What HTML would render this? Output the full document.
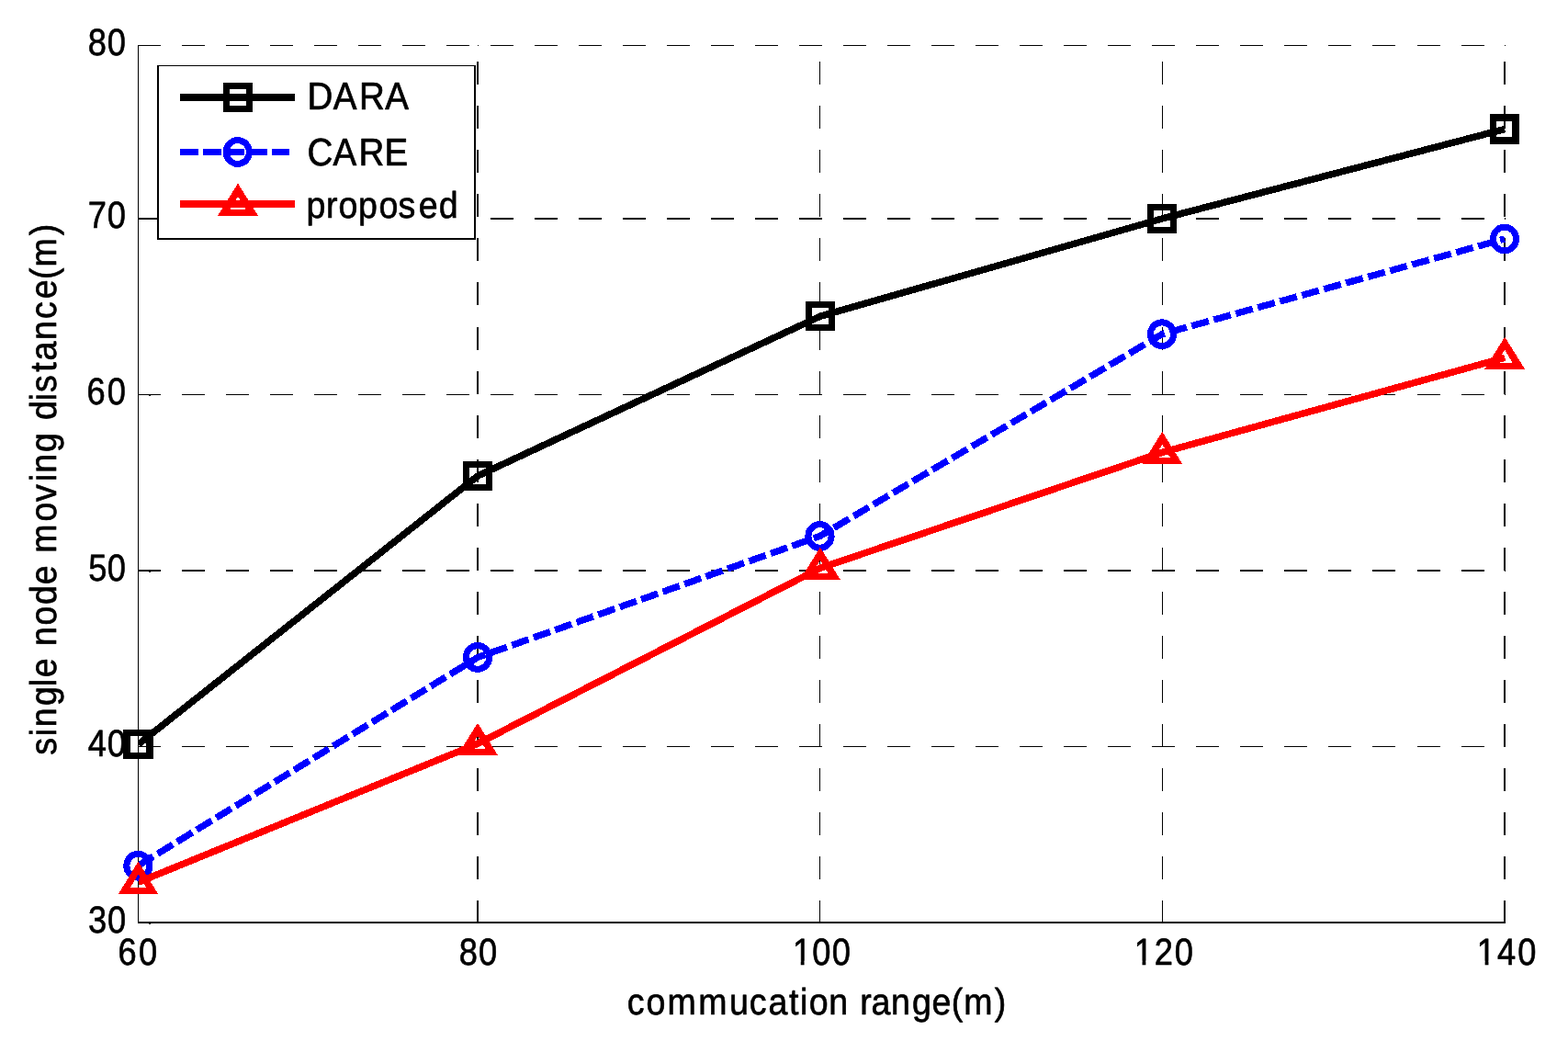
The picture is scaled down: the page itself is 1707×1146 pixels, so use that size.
<!DOCTYPE html>
<html lang="en"><head><meta charset="utf-8"><title>single node moving distance vs commucation range</title>
<style>
html,body{margin:0;padding:0;background:#fff;}
body{width:1707px;height:1146px;overflow:hidden;}
svg{display:block;}
text{font-family:'Liberation Sans', Arial, Helvetica, sans-serif;fill:#000;stroke:#000;stroke-width:0.7px;stroke-linejoin:round;white-space:pre;}
</style></head><body>
<svg width="1707" height="1146" viewBox="0 0 1707 1146" role="img" aria-label="single node moving distance versus commucation range">
<rect x="0" y="0" width="1707" height="1146" fill="#fff"/>
<g fill="#000" shape-rendering="crispEdges">
<rect x="150" y="49" width="25" height="1"/><rect x="198" y="49" width="25" height="1"/><rect x="246" y="49" width="25" height="1"/><rect x="294" y="49" width="25" height="1"/><rect x="342" y="49" width="25" height="1"/><rect x="390" y="49" width="25" height="1"/><rect x="438" y="49" width="25" height="1"/><rect x="486" y="49" width="25" height="1"/><rect x="534" y="49" width="25" height="1"/><rect x="582" y="49" width="25" height="1"/><rect x="630" y="49" width="25" height="1"/><rect x="678" y="49" width="25" height="1"/><rect x="726" y="49" width="25" height="1"/><rect x="774" y="49" width="25" height="1"/><rect x="822" y="49" width="25" height="1"/><rect x="870" y="49" width="25" height="1"/><rect x="918" y="49" width="25" height="1"/><rect x="966" y="49" width="25" height="1"/><rect x="1014" y="49" width="25" height="1"/><rect x="1062" y="49" width="25" height="1"/><rect x="1110" y="49" width="25" height="1"/><rect x="1158" y="49" width="25" height="1"/><rect x="1206" y="49" width="25" height="1"/><rect x="1254" y="49" width="25" height="1"/><rect x="1302" y="49" width="25" height="1"/><rect x="1350" y="49" width="25" height="1"/><rect x="1398" y="49" width="25" height="1"/><rect x="1446" y="49" width="25" height="1"/><rect x="1494" y="49" width="25" height="1"/><rect x="1543" y="49" width="25" height="1"/><rect x="1591" y="49" width="25" height="1"/><rect x="1638" y="49" width="1" height="1"/>
<rect x="150" y="237" width="25" height="2"/><rect x="198" y="237" width="25" height="2"/><rect x="246" y="237" width="25" height="2"/><rect x="294" y="237" width="25" height="2"/><rect x="342" y="237" width="25" height="2"/><rect x="390" y="237" width="25" height="2"/><rect x="438" y="237" width="25" height="2"/><rect x="486" y="237" width="25" height="2"/><rect x="534" y="237" width="25" height="2"/><rect x="582" y="237" width="25" height="2"/><rect x="630" y="237" width="25" height="2"/><rect x="678" y="237" width="25" height="2"/><rect x="726" y="237" width="25" height="2"/><rect x="774" y="237" width="25" height="2"/><rect x="822" y="237" width="25" height="2"/><rect x="870" y="237" width="25" height="2"/><rect x="918" y="237" width="25" height="2"/><rect x="966" y="237" width="25" height="2"/><rect x="1014" y="237" width="25" height="2"/><rect x="1062" y="237" width="25" height="2"/><rect x="1110" y="237" width="25" height="2"/><rect x="1158" y="237" width="25" height="2"/><rect x="1206" y="237" width="25" height="2"/><rect x="1254" y="237" width="25" height="2"/><rect x="1302" y="237" width="25" height="2"/><rect x="1350" y="237" width="25" height="2"/><rect x="1398" y="237" width="25" height="2"/><rect x="1446" y="237" width="25" height="2"/><rect x="1494" y="237" width="25" height="2"/><rect x="1543" y="237" width="25" height="2"/><rect x="1591" y="237" width="25" height="2"/><rect x="1638" y="237" width="1" height="2"/>
<rect x="150" y="429" width="25" height="1"/><rect x="198" y="429" width="25" height="1"/><rect x="246" y="429" width="25" height="1"/><rect x="294" y="429" width="25" height="1"/><rect x="342" y="429" width="25" height="1"/><rect x="390" y="429" width="25" height="1"/><rect x="438" y="429" width="25" height="1"/><rect x="486" y="429" width="25" height="1"/><rect x="534" y="429" width="25" height="1"/><rect x="582" y="429" width="25" height="1"/><rect x="630" y="429" width="25" height="1"/><rect x="678" y="429" width="25" height="1"/><rect x="726" y="429" width="25" height="1"/><rect x="774" y="429" width="25" height="1"/><rect x="822" y="429" width="25" height="1"/><rect x="870" y="429" width="25" height="1"/><rect x="918" y="429" width="25" height="1"/><rect x="966" y="429" width="25" height="1"/><rect x="1014" y="429" width="25" height="1"/><rect x="1062" y="429" width="25" height="1"/><rect x="1110" y="429" width="25" height="1"/><rect x="1158" y="429" width="25" height="1"/><rect x="1206" y="429" width="25" height="1"/><rect x="1254" y="429" width="25" height="1"/><rect x="1302" y="429" width="25" height="1"/><rect x="1350" y="429" width="25" height="1"/><rect x="1398" y="429" width="25" height="1"/><rect x="1446" y="429" width="25" height="1"/><rect x="1494" y="429" width="25" height="1"/><rect x="1543" y="429" width="25" height="1"/><rect x="1591" y="429" width="25" height="1"/><rect x="1638" y="429" width="1" height="1"/>
<rect x="150" y="620" width="25" height="2"/><rect x="198" y="620" width="25" height="2"/><rect x="246" y="620" width="25" height="2"/><rect x="294" y="620" width="25" height="2"/><rect x="342" y="620" width="25" height="2"/><rect x="390" y="620" width="25" height="2"/><rect x="438" y="620" width="25" height="2"/><rect x="486" y="620" width="25" height="2"/><rect x="534" y="620" width="25" height="2"/><rect x="582" y="620" width="25" height="2"/><rect x="630" y="620" width="25" height="2"/><rect x="678" y="620" width="25" height="2"/><rect x="726" y="620" width="25" height="2"/><rect x="774" y="620" width="25" height="2"/><rect x="822" y="620" width="25" height="2"/><rect x="870" y="620" width="25" height="2"/><rect x="918" y="620" width="25" height="2"/><rect x="966" y="620" width="25" height="2"/><rect x="1014" y="620" width="25" height="2"/><rect x="1062" y="620" width="25" height="2"/><rect x="1110" y="620" width="25" height="2"/><rect x="1158" y="620" width="25" height="2"/><rect x="1206" y="620" width="25" height="2"/><rect x="1254" y="620" width="25" height="2"/><rect x="1302" y="620" width="25" height="2"/><rect x="1350" y="620" width="25" height="2"/><rect x="1398" y="620" width="25" height="2"/><rect x="1446" y="620" width="25" height="2"/><rect x="1494" y="620" width="25" height="2"/><rect x="1543" y="620" width="25" height="2"/><rect x="1591" y="620" width="25" height="2"/><rect x="1638" y="620" width="1" height="2"/>
<rect x="150" y="812" width="25" height="1"/><rect x="198" y="812" width="25" height="1"/><rect x="246" y="812" width="25" height="1"/><rect x="294" y="812" width="25" height="1"/><rect x="342" y="812" width="25" height="1"/><rect x="390" y="812" width="25" height="1"/><rect x="438" y="812" width="25" height="1"/><rect x="486" y="812" width="25" height="1"/><rect x="534" y="812" width="25" height="1"/><rect x="582" y="812" width="25" height="1"/><rect x="630" y="812" width="25" height="1"/><rect x="678" y="812" width="25" height="1"/><rect x="726" y="812" width="25" height="1"/><rect x="774" y="812" width="25" height="1"/><rect x="822" y="812" width="25" height="1"/><rect x="870" y="812" width="25" height="1"/><rect x="918" y="812" width="25" height="1"/><rect x="966" y="812" width="25" height="1"/><rect x="1014" y="812" width="25" height="1"/><rect x="1062" y="812" width="25" height="1"/><rect x="1110" y="812" width="25" height="1"/><rect x="1158" y="812" width="25" height="1"/><rect x="1206" y="812" width="25" height="1"/><rect x="1254" y="812" width="25" height="1"/><rect x="1302" y="812" width="25" height="1"/><rect x="1350" y="812" width="25" height="1"/><rect x="1398" y="812" width="25" height="1"/><rect x="1446" y="812" width="25" height="1"/><rect x="1494" y="812" width="25" height="1"/><rect x="1543" y="812" width="25" height="1"/><rect x="1591" y="812" width="25" height="1"/><rect x="1638" y="812" width="1" height="1"/>
<rect x="519" y="980" width="2" height="25"/><rect x="519" y="932" width="2" height="25"/><rect x="519" y="884" width="2" height="25"/><rect x="519" y="836" width="2" height="25"/><rect x="519" y="788" width="2" height="25"/><rect x="519" y="740" width="2" height="25"/><rect x="519" y="692" width="2" height="25"/><rect x="519" y="644" width="2" height="25"/><rect x="519" y="596" width="2" height="25"/><rect x="519" y="548" width="2" height="25"/><rect x="519" y="500" width="2" height="25"/><rect x="519" y="452" width="2" height="25"/><rect x="519" y="404" width="2" height="25"/><rect x="519" y="356" width="2" height="25"/><rect x="519" y="307" width="2" height="25"/><rect x="519" y="259" width="2" height="25"/><rect x="519" y="211" width="2" height="25"/><rect x="519" y="163" width="2" height="25"/><rect x="519" y="115" width="2" height="25"/><rect x="519" y="67" width="2" height="25"/><rect x="520" y="49" width="1" height="1"/>
<rect x="892" y="980" width="1" height="25"/><rect x="892" y="932" width="1" height="25"/><rect x="892" y="884" width="1" height="25"/><rect x="892" y="836" width="1" height="25"/><rect x="892" y="788" width="1" height="25"/><rect x="892" y="740" width="1" height="25"/><rect x="892" y="692" width="1" height="25"/><rect x="892" y="644" width="1" height="25"/><rect x="892" y="596" width="1" height="25"/><rect x="892" y="548" width="1" height="25"/><rect x="892" y="500" width="1" height="25"/><rect x="892" y="452" width="1" height="25"/><rect x="892" y="404" width="1" height="25"/><rect x="892" y="356" width="1" height="25"/><rect x="892" y="307" width="1" height="25"/><rect x="892" y="259" width="1" height="25"/><rect x="892" y="211" width="1" height="25"/><rect x="892" y="163" width="1" height="25"/><rect x="892" y="115" width="1" height="25"/><rect x="892" y="67" width="1" height="25"/>
<rect x="1265" y="980" width="1" height="25"/><rect x="1265" y="932" width="1" height="25"/><rect x="1265" y="884" width="1" height="25"/><rect x="1265" y="836" width="1" height="25"/><rect x="1265" y="788" width="1" height="25"/><rect x="1265" y="740" width="1" height="25"/><rect x="1265" y="692" width="1" height="25"/><rect x="1265" y="644" width="1" height="25"/><rect x="1265" y="596" width="1" height="25"/><rect x="1265" y="548" width="1" height="25"/><rect x="1265" y="500" width="1" height="25"/><rect x="1265" y="452" width="1" height="25"/><rect x="1265" y="404" width="1" height="25"/><rect x="1265" y="356" width="1" height="25"/><rect x="1265" y="307" width="1" height="25"/><rect x="1265" y="259" width="1" height="25"/><rect x="1265" y="211" width="1" height="25"/><rect x="1265" y="163" width="1" height="25"/><rect x="1265" y="115" width="1" height="25"/><rect x="1265" y="67" width="1" height="25"/>
<rect x="1637" y="980" width="2" height="25"/><rect x="1637" y="932" width="2" height="25"/><rect x="1637" y="884" width="2" height="25"/><rect x="1637" y="836" width="2" height="25"/><rect x="1637" y="788" width="2" height="25"/><rect x="1637" y="740" width="2" height="25"/><rect x="1637" y="692" width="2" height="25"/><rect x="1637" y="644" width="2" height="25"/><rect x="1637" y="596" width="2" height="25"/><rect x="1637" y="548" width="2" height="25"/><rect x="1637" y="500" width="2" height="25"/><rect x="1637" y="452" width="2" height="25"/><rect x="1637" y="404" width="2" height="25"/><rect x="1637" y="356" width="2" height="25"/><rect x="1637" y="307" width="2" height="25"/><rect x="1637" y="259" width="2" height="25"/><rect x="1637" y="211" width="2" height="25"/><rect x="1637" y="163" width="2" height="25"/><rect x="1637" y="115" width="2" height="25"/><rect x="1637" y="67" width="2" height="25"/><rect x="1638" y="49" width="1" height="1"/>
<rect x="150" y="49" width="1" height="956"/>
<rect x="150" y="1003" width="1489" height="2"/>
<rect x="162" y="430" width="2" height="1"/><rect x="162" y="622" width="2" height="1"/><rect x="162" y="1005" width="2" height="1"/>
</g>
<clipPath id="axclip"><rect x="151" y="40" width="1488" height="970"/></clipPath>
<g fill="none" stroke-linejoin="round" shape-rendering="crispEdges">
<polyline clip-path="url(#axclip)" points="150.5,810.1 520.0,518.0 892.5,344.4 1265.0,238.0 1638.0,140.5" stroke="#000" stroke-width="7.5"/>
<path d="M134 794H167V826H134Z M142 801H159V819H142Z" fill="#000" fill-rule="evenodd"/>
<rect x="507.5" y="505.5" width="25" height="25" fill="none" stroke="#000" stroke-width="7" stroke-linejoin="miter"/>
<rect x="880.0" y="331.9" width="25" height="25" fill="none" stroke="#000" stroke-width="7" stroke-linejoin="miter"/>
<rect x="1252.5" y="225.5" width="25" height="25" fill="none" stroke="#000" stroke-width="7" stroke-linejoin="miter"/>
<path d="M1622 124H1654V157H1622Z M1629 132H1646V149H1629Z" fill="#000" fill-rule="evenodd"/>
<polyline clip-path="url(#axclip)" points="150.4,942.2 520.0,715.5 892.5,583.5 1265.0,363.7 1638.0,260.0" stroke="#00f" stroke-width="7.3" stroke-dasharray="19.3 5.6"/>
<ellipse cx="150.4" cy="942.2" rx="12.6" ry="12.9" fill="none" stroke="#00f" stroke-width="7"/>
<ellipse cx="520.0" cy="715.5" rx="12.6" ry="12.9" fill="none" stroke="#00f" stroke-width="7"/>
<ellipse cx="892.5" cy="583.5" rx="12.6" ry="12.9" fill="none" stroke="#00f" stroke-width="7"/>
<ellipse cx="1265.0" cy="363.7" rx="12.6" ry="12.9" fill="none" stroke="#00f" stroke-width="7"/>
<ellipse cx="1638.0" cy="260.0" rx="12.6" ry="12.9" fill="none" stroke="#00f" stroke-width="7"/>
<polyline clip-path="url(#axclip)" points="150.5,960.2 520.0,809.4 892.9,618.3 1265.3,492.4 1638.2,389.3" stroke="#f00" stroke-width="7.5"/>
<path d="M150.1 938.2 L150.9 938.2 L172.0 972.9 L129.0 972.9 Z M150.5 951.6 L159.1 965.9 L141.9 965.9 Z" fill="#f00" fill-rule="evenodd"/>
<path d="M519.6 787.4 L520.4 787.4 L542.0 822.1 L498.0 822.1 Z M520.0 800.8 L528.6 815.1 L511.4 815.1 Z" fill="#f00" fill-rule="evenodd"/>
<path d="M892.5 596.3 L893.3 596.3 L914.9 631.0 L870.9 631.0 Z M892.9 609.7 L901.5 624.0 L884.3 624.0 Z" fill="#f00" fill-rule="evenodd"/>
<path d="M1264.9 470.4 L1265.7 470.4 L1287.3 505.1 L1243.3 505.1 Z M1265.3 483.8 L1273.9 498.1 L1256.7 498.1 Z" fill="#f00" fill-rule="evenodd"/>
<path d="M1637.8 367.3 L1638.6 367.3 L1660.2 402.0 L1616.2 402.0 Z M1638.2 380.7 L1646.8 395.0 L1629.6 395.0 Z" fill="#f00" fill-rule="evenodd"/>
</g>
<g shape-rendering="crispEdges">
<rect x="171" y="71" width="347" height="190" fill="#000"/><rect x="173" y="72" width="343" height="187" fill="#fff"/>
<g fill="none">
<line x1="195.7" y1="106" x2="321.1" y2="106" stroke="#000" stroke-width="8.0"/>
<rect x="246.5" y="93.5" width="25" height="25" fill="none" stroke="#000" stroke-width="7" stroke-linejoin="miter"/>
<line x1="195.7" y1="165.5" x2="315.2" y2="165.5" stroke="#00f" stroke-width="7.3" stroke-dasharray="20.3 4.7"/>
<ellipse cx="258.8" cy="165.5" rx="12.6" ry="12.9" fill="none" stroke="#00f" stroke-width="7"/>
<line x1="195.7" y1="222.2" x2="321.1" y2="222.2" stroke="#f00" stroke-width="8.0"/>
<path d="M258.6 200.3 L259.4 200.3 L281.2 235.0 L236.8 235.0 Z M259.0 213.7 L267.6 228.0 L250.4 228.0 Z" fill="#f00" fill-rule="evenodd"/>
</g></g>
<g font-size="41.7" text-rendering="geometricPrecision">
<text transform="translate(0 119) scale(0.9250 1.0080)" x="361.58 392.09 422.60 453.11" y="0">DARA</text>
<text transform="translate(0 180) scale(0.9250 1.0080)" x="361.69 391.90 422.12 452.33" y="0">CARE</text>
<text transform="translate(0 237) scale(0.9000 0.9650)" x="370.55 394.46 409.40 433.38 458.24 481.75 506.44 530.98" y="0">proposed</text>
<text transform="translate(0 60) scale(0.8700 0.9840)" x="110.03 134.18" y="0">80</text>
<text transform="translate(0 248) scale(0.8700 0.9840)" x="110.05 134.29" y="0">70</text>
<text transform="translate(0 440) scale(0.8700 0.9840)" x="108.69 134.29" y="0">60</text>
<text transform="translate(0 632) scale(0.8700 0.9840)" x="110.52 134.29" y="0">50</text>
<text transform="translate(0 1015) scale(0.8700 0.9840)" x="110.37 134.41" y="0">30</text>
<text transform="translate(0 823) scale(0.8700 0.9840)" x="109.93 134.29" y="0">40</text>
<text transform="translate(0 1050) scale(0.8700 0.9840)" x="147.77 173.49" y="0">60</text>
<text transform="translate(0 1050) scale(0.8700 0.9840)" x="574.51 598.89" y="0">80</text>
<text transform="translate(0 1050) scale(0.8700 0.9840)" x="991.86 1016.52 1041.19" y="0">100</text>
<rect x="864.28" y="1045.73" width="7.45" height="5.87" fill="#fff"/><rect x="875.55" y="1045.73" width="7.17" height="5.87" fill="#fff"/>
<text transform="translate(0 1050) scale(0.8700 0.9840)" x="1419.21 1444.57 1469.93" y="0">120</text>
<rect x="1236.08" y="1045.73" width="7.45" height="5.87" fill="#fff"/><rect x="1247.35" y="1045.73" width="7.17" height="5.87" fill="#fff"/>
<text transform="translate(0 1050) scale(0.8700 0.9840)" x="1848.06 1873.59 1899.12" y="0">140</text>
<rect x="1609.18" y="1045.73" width="7.45" height="5.87" fill="#fff"/><rect x="1620.45" y="1045.73" width="7.17" height="5.87" fill="#fff"/>
<text transform="translate(0 1104) scale(0.9000 0.9650)" x="758.63 781.79 807.12 844.79 882.35 906.35 929.52 954.52 967.71 978.63 1002.48 1007.48 1040.35 1053.91 1077.71 1103.29 1127.31 1150.83 1165.84 1202.95" y="0">commucation range(m)</text>
<text transform="translate(60.6 830.0) rotate(-90) scale(0.9000 0.9650)" x="9.19 31.99 43.15 68.98 92.02 103.06 108.06 141.04 166.02 191.09 215.17 220.17 253.73 291.79 315.69 339.88 350.21 375.54 380.54 414.43 437.49 447.86 472.49 486.19 511.21 536.63 560.78 584.39 599.40 637.62" y="0">single node moving distance(m)</text>
</g>
</svg></body></html>
